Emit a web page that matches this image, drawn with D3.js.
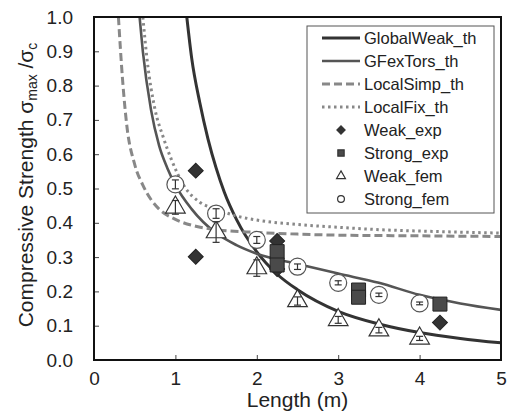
<!DOCTYPE html>
<html>
<head>
<meta charset="utf-8">
<script src="https://cdn.jsdelivr.net/npm/d3@7"></script>
<style>
body { margin: 0; background: #fff; }
text { font-family: "Liberation Sans", Arial, sans-serif; fill: #222; }
</style>
</head>
<body>
<div id="chart-area"></div>
<script>
/*
*    main.js
*/

// theory curves
var globalWeakL = [1.14, 1.2, 1.3, 1.4, 1.5, 1.6, 1.75, 2.0, 2.25, 2.5, 3.0, 3.5, 4.0, 4.5, 5.0];
var globalWeakV = [1.0, 0.88, 0.75, 0.645, 0.56, 0.49, 0.41, 0.315, 0.25, 0.205, 0.142, 0.105, 0.08, 0.063, 0.05];
var gfexTorsL = [0.56, 0.6, 0.7, 0.8, 0.9, 1.0, 1.2, 1.5, 1.75, 2.0, 2.5, 3.0, 3.5, 4.0, 4.5, 5.0];
var gfexTorsV = [1.0, 0.9, 0.73, 0.625, 0.56, 0.51, 0.44, 0.37, 0.335, 0.31, 0.28, 0.252, 0.225, 0.19, 0.165, 0.146];
var localSimpL = [0.3, 0.35, 0.4, 0.5, 0.6, 0.7, 0.8, 1.0, 1.25, 1.5, 2.0, 2.5, 3.0, 4.0, 5.0];
var localSimpV = [1.0, 0.82, 0.69, 0.57, 0.51, 0.468, 0.44, 0.41, 0.39, 0.38, 0.372, 0.367, 0.364, 0.362, 0.36];
var localFixL = [0.6, 0.65, 0.75, 0.85, 0.95, 1.1, 1.3, 1.5, 1.75, 2.0, 2.5, 3.0, 3.5, 4.0, 5.0];
var localFixV = [1.0, 0.88, 0.73, 0.65, 0.585, 0.51, 0.46, 0.44, 0.42, 0.408, 0.395, 0.387, 0.38, 0.376, 0.37];

// experiments and FEM
var weakExpL = [1.25, 1.25, 2.25, 2.25, 4.25];
var weakExpV = [0.552, 0.301, 0.347, 0.265, 0.109];
var strongExpL = [2.25, 2.25, 3.25, 3.25, 4.25];
var strongExpV = [0.316, 0.277, 0.204, 0.183, 0.163];
var femL = [1, 1.5, 2, 2.5, 3, 3.5, 4];
var weakFemV = [0.445, 0.373, 0.268, 0.172, 0.117, 0.087, 0.063];
var weakFemErr = [0.02, 0.03, 0.024, 0.012, 0.01, 0.008, 0.006];
var strongFemV = [0.512, 0.427, 0.35, 0.272, 0.225, 0.19, 0.165];
var strongFemErr = [0.013, 0.014, 0.01, 0.008, 0.006, 0.005, 0.004];

var xTicks = [0, 1, 2, 3, 4, 5];
var yTicks = [0, 0.1, 0.2, 0.3, 0.4, 0.5, 0.6, 0.7, 0.8, 0.9, 1.0];
var legendNames = ["GlobalWeak_th", "GFexTors_th", "LocalSimp_th", "LocalFix_th", "Weak_exp", "Strong_exp", "Weak_fem", "Strong_fem"];

var svg = d3.select("#chart-area").append("svg").attr("width", 510).attr("height", 413);
var margin = {left: 94, right: 9, top: 17, bottom: 53};
var width = 510 - margin.left - margin.right;
var height = 413 - margin.top - margin.bottom;

var x = d3.scaleLinear().domain([0, 5]).range([0, width]);
var y = d3.scaleLinear().domain([0, 1]).range([height, 0]);

var g = svg.append("g")
	.attr("transform", "translate(" + margin.left + ", " + margin.top + ")");

g.append("clipPath").attr("id", "plot-clip")
	.append("rect").attr("width", width).attr("height", height);

// axes, ticks pointing inward
var bottomAxis = d3.axisBottom(x).tickValues(xTicks).tickSize(-5).tickPadding(12).tickFormat(d3.format("d"));
var leftAxis = d3.axisLeft(y).tickValues(yTicks).tickSize(-5).tickPadding(21).tickFormat(d3.format(".1f"));

var bottomAxisGroup = g.append("g")
	.attr("transform", "translate(0, " + height + ")")
	.call(bottomAxis);
var leftAxisGroup = g.append("g").call(leftAxis);

[bottomAxisGroup, leftAxisGroup].forEach(function(ax) {
	ax.select(".domain").remove();
	ax.selectAll("line").attr("stroke", "#444");
	ax.selectAll("text")
		.attr("font-family", "Liberation Sans, Arial, sans-serif")
		.attr("font-size", "19px")
		.attr("fill", "#222");
});
bottomAxisGroup.selectAll(".tick line").filter(d => d == 0 || d == 5).remove();
leftAxisGroup.selectAll(".tick line").filter(d => d == 0 || d == 1).remove();

// theory lines
var line = d3.line()
	.x(d => x(d[0]))
	.y(d => y(d[1]))
	.curve(d3.curveMonotoneX);

var curves = [
	{L: globalWeakL, V: globalWeakV, color: "#333", w: 3, dash: null},
	{L: gfexTorsL, V: gfexTorsV, color: "#555", w: 2.6, dash: null},
	{L: localSimpL, V: localSimpV, color: "#888", w: 3, dash: "8,4"},
	{L: localFixL, V: localFixV, color: "#888", w: 3, dash: "2.5,3.5"}
];

curves.forEach(function(c) {
	g.append("path")
		.attr("clip-path", "url(#plot-clip)")
		.attr("d", line(c.L.map((l, i) => [l, c.V[i]])))
		.attr("fill", "none")
		.attr("stroke", c.color)
		.attr("stroke-width", c.w)
		.attr("stroke-dasharray", c.dash);
});

// markers
var diamond = d3.symbol().type(d3.symbolSquare).size(112);
var square = d3.symbol().type(d3.symbolSquare).size(196);
var triangle = d3.symbol().type(d3.symbolTriangle).size(167);
var circle = d3.symbol().type(d3.symbolCircle).size(227);

g.selectAll(".weak-fem").data(femL).enter().append("path")
	.attr("class", "weak-fem")
	.attr("d", triangle)
	.attr("transform", (d, i) => "translate(" + x(d) + "," + y(weakFemV[i]) + ")")
	.attr("fill", "#fff").attr("stroke", "#333").attr("stroke-width", 1.2);

g.selectAll(".strong-fem").data(femL).enter().append("path")
	.attr("class", "strong-fem")
	.attr("d", circle)
	.attr("transform", (d, i) => "translate(" + x(d) + "," + y(strongFemV[i]) + ")")
	.attr("fill", "#fff").attr("stroke", "#555").attr("stroke-width", 1.2);

g.selectAll(".weak-exp").data(weakExpL).enter().append("path")
	.attr("class", "weak-exp")
	.attr("d", diamond)
	.attr("transform", (d, i) => "translate(" + x(d) + "," + y(weakExpV[i]) + ") rotate(45)")
	.attr("fill", "#333").attr("stroke", "#222").attr("stroke-width", 1);

g.selectAll(".strong-exp").data(strongExpL).enter().append("path")
	.attr("class", "strong-exp")
	.attr("d", square)
	.attr("transform", (d, i) => "translate(" + x(d) + "," + y(strongExpV[i]) + ")")
	.attr("fill", "#4a4a4a").attr("stroke", "#222").attr("stroke-width", 1);

// error bars
function errorBars(vals, errs) {
	femL.forEach(function(l, i) {
		var cx = x(l), y0 = y(vals[i] - errs[i]), y1 = y(vals[i] + errs[i]);
		var eb = g.append("g").attr("stroke", "#333").attr("stroke-width", 1.2);
		eb.append("line").attr("x1", cx).attr("x2", cx).attr("y1", y0).attr("y2", y1);
		eb.append("line").attr("x1", cx - 3.5).attr("x2", cx + 3.5).attr("y1", y0).attr("y2", y0);
		eb.append("line").attr("x1", cx - 3.5).attr("x2", cx + 3.5).attr("y1", y1).attr("y2", y1);
	});
}
errorBars(weakFemV, weakFemErr);
errorBars(strongFemV, strongFemErr);

// frame
g.append("rect")
	.attr("width", width).attr("height", height)
	.attr("fill", "none").attr("stroke", "#111").attr("stroke-width", 2);

// legend
var legend = svg.append("g").attr("transform", "translate(307, 26)");
legend.append("rect")
	.attr("width", 187).attr("height", 187)
	.attr("fill", "#fff").attr("stroke", "#555").attr("stroke-width", 1);

var legendMarks = [null, null, null, null, diamond, square, triangle, circle];
var legendFill = [null, null, null, null, "#333", "#4a4a4a", "#fff", "#fff"];
var legendScale = [1, 1, 1, 1, 0.55, 0.45, 0.45, 0.4];

legendNames.forEach(function(name, i) {
	var ly = 12 + i * 23;
	if (i < 4) {
		legend.append("line")
			.attr("x1", 15).attr("x2", 53).attr("y1", ly).attr("y2", ly)
			.attr("stroke", curves[i].color)
			.attr("stroke-width", curves[i].w)
			.attr("stroke-dasharray", curves[i].dash);
	} else {
		legend.append("path")
			.attr("d", legendMarks[i])
			.attr("transform", "translate(34," + ly + ") scale(" + legendScale[i] + ")" + (i == 4 ? " rotate(45)" : ""))
			.attr("fill", legendFill[i])
			.attr("stroke", "#333")
			.attr("stroke-width", 1.2 / legendScale[i]);
	}
	legend.append("text")
		.attr("x", 57).attr("y", ly + 6)
		.attr("font-size", "16.5px")
		.text(name);
});

// axis titles
svg.append("text")
	.attr("x", margin.left + width / 2)
	.attr("y", 407)
	.attr("text-anchor", "middle")
	.attr("font-size", "21px")
	.text("Length (m)");

var yTitle = svg.append("text")
	.attr("transform", "translate(33, 185) rotate(-90)")
	.attr("text-anchor", "middle")
	.attr("font-size", "21px");
yTitle.append("tspan").text("Compressive Strength σ");
yTitle.append("tspan").attr("font-size", "14px").attr("dy", 4).text("max");
yTitle.append("tspan").attr("dy", -4).text(" /σ");
yTitle.append("tspan").attr("font-size", "14px").attr("dy", 4).text("c");
</script>
</body>
</html>
